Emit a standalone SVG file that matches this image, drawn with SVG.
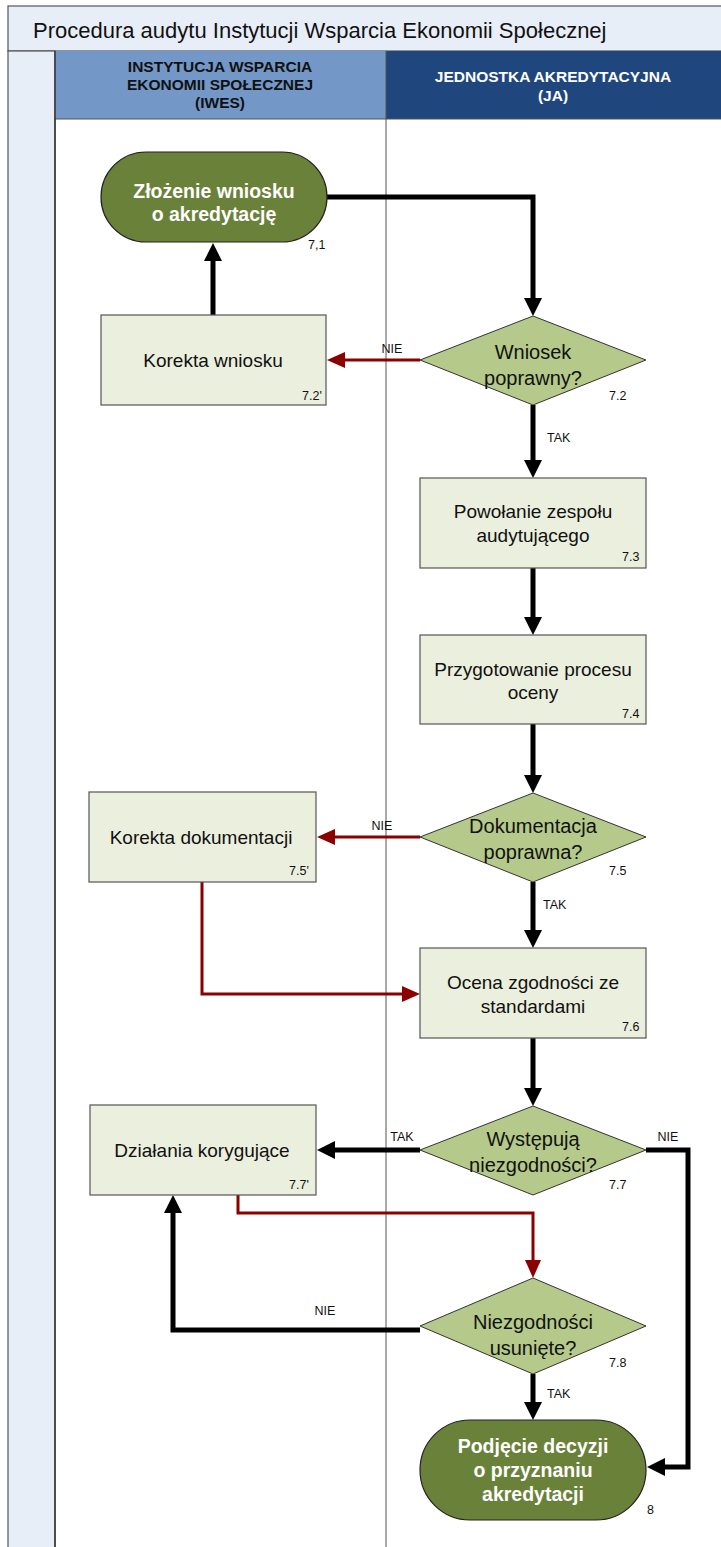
<svg xmlns="http://www.w3.org/2000/svg" width="721" height="1547" viewBox="0 0 721 1547">
<style>
.t{font-family:"Liberation Sans",Arial,sans-serif;}
.box{fill:#EBEFDD;stroke:#555;stroke-width:1.2;}
.dia{fill:#B5C98A;stroke:#333;stroke-width:1;}
.term{fill:#6A813A;stroke:#222;stroke-width:1.2;}
.lbl{font-family:"Liberation Sans",Arial,sans-serif;font-size:19px;fill:#111;text-anchor:middle;}
.dl{font-family:"Liberation Sans",Arial,sans-serif;font-size:20px;fill:#111;text-anchor:middle;}
.tl{font-family:"Liberation Sans",Arial,sans-serif;font-size:19.5px;font-weight:bold;fill:#fff;text-anchor:middle;}
.num{font-family:"Liberation Sans",Arial,sans-serif;font-size:12.5px;fill:#111;}
.cl{font-family:"Liberation Sans",Arial,sans-serif;font-size:12.5px;fill:#111;}
.kb{fill:none;stroke:#000;stroke-width:5;stroke-linejoin:miter;}
.kr{fill:none;stroke:#8B0000;stroke-width:3;stroke-linejoin:miter;}
</style>
<defs>
<marker id="ab" markerWidth="18" markerHeight="18" viewBox="0 0 18 18" refX="1" refY="9" orient="auto" markerUnits="userSpaceOnUse"><path d="M0,0 L18,9 L0,18 z" fill="#000"/></marker>
<marker id="ar" markerWidth="18" markerHeight="16" viewBox="0 0 18 16" refX="1" refY="8" orient="auto" markerUnits="userSpaceOnUse"><path d="M0,0 L18,8 L0,16 z" fill="#8B0000"/></marker>
</defs>
<rect x="0" y="0" width="721" height="1547" fill="#fff"/>
<g id="frame">
<rect x="8" y="6" width="720" height="45" fill="#E8EEF8" stroke="#555" stroke-width="1.2"/>
<text class="t" x="33" y="38" font-size="22" fill="#111">Procedura audytu Instytucji Wsparcia Ekonomii Społecznej</text>
<rect x="8" y="51" width="47" height="1500" fill="#E8EEF8" stroke="#555" stroke-width="1.2"/>
<rect x="55" y="51" width="331" height="68" fill="#7397C6"/>
<rect x="386" y="51" width="340" height="68" fill="#1F477E"/>
<line x1="55" y1="119" x2="721" y2="119" stroke="#555" stroke-width="1"/>
<line x1="55" y1="51" x2="55" y2="1547" stroke="#333" stroke-width="1.5"/>
<line x1="386" y1="51" x2="386" y2="1547" stroke="#555" stroke-width="1"/>
<g class="t" font-size="15.5" font-weight="bold" text-anchor="middle">
<text x="220" y="72" fill="#111">INSTYTUCJA WSPARCIA</text>
<text x="220" y="90" fill="#111">EKONOMII SPOŁECZNEJ</text>
<text x="220" y="108" fill="#111">(IWES)</text>
<text x="553" y="82" fill="#fff">JEDNOSTKA AKREDYTACYJNA</text>
<text x="553" y="101" fill="#fff">(JA)</text>
</g>
</g>
<g id="connectors">
<path class="kb" d="M327,197 H533 V299" marker-end="url(#ab)"/>
<path class="kr" d="M420,360 H344" marker-end="url(#ar)"/>
<path class="kb" d="M213,315 V260" marker-end="url(#ab)"/>
<path class="kb" d="M533,405 V461" marker-end="url(#ab)"/>
<path class="kb" d="M533,568 V618" marker-end="url(#ab)"/>
<path class="kb" d="M533,724 V776" marker-end="url(#ab)"/>
<path class="kr" d="M420,837 H334" marker-end="url(#ar)"/>
<path class="kb" d="M533,882 V931" marker-end="url(#ab)"/>
<path class="kr" d="M202,882 V994 H403" marker-end="url(#ar)"/>
<path class="kb" d="M533,1038 V1089" marker-end="url(#ab)"/>
<path class="kb" d="M420,1150 H334" marker-end="url(#ab)"/>
<path class="kb" d="M646,1150 H688 V1467 H664" marker-end="url(#ab)"/>
<path class="kr" d="M238,1195 V1213 H533 V1261" marker-end="url(#ar)"/>
<path class="kb" d="M420,1330 H173 V1212" marker-end="url(#ab)"/>
<path class="kb" d="M533,1374 V1403" marker-end="url(#ab)"/>
<text class="cl" x="392" y="353" text-anchor="middle">NIE</text>
<text class="cl" x="547" y="442">TAK</text>
<text class="cl" x="382" y="830" text-anchor="middle">NIE</text>
<text class="cl" x="543" y="909">TAK</text>
<text class="cl" x="402" y="1141" text-anchor="middle">TAK</text>
<text class="cl" x="668" y="1141" text-anchor="middle">NIE</text>
<text class="cl" x="325" y="1315" text-anchor="middle">NIE</text>
<text class="cl" x="547" y="1398">TAK</text>
</g>
<g id="n71">
<rect class="term" x="101" y="152" width="226" height="90" rx="45" ry="45"/>
<text class="tl" x="214" y="198">Złożenie wniosku</text>
<text class="tl" x="214" y="221">o akredytację</text>
<text class="num" x="308" y="249">7,1</text>
</g>
<g id="n72p">
<rect class="box" x="101" y="315" width="225" height="90"/>
<text class="lbl" x="213" y="367">Korekta wniosku</text>
<text class="num" x="302" y="400">7.2'</text>
</g>
<g id="n72">
<path class="dia" d="M533,316 L646,360 L533,405 L420,360 Z"/>
<text class="dl" x="533" y="359">Wniosek</text>
<text class="dl" x="533" y="385">poprawny?</text>
<text class="num" x="609" y="400">7.2</text>
</g>
<g id="n73">
<rect class="box" x="420" y="478" width="226" height="90"/>
<text class="lbl" x="533" y="518">Powołanie zespołu</text>
<text class="lbl" x="533" y="542">audytującego</text>
<text class="num" x="622" y="561">7.3</text>
</g>
<g id="n74">
<rect class="box" x="420" y="635" width="226" height="89"/>
<text class="lbl" x="533" y="676">Przygotowanie procesu</text>
<text class="lbl" x="533" y="699">oceny</text>
<text class="num" x="622" y="718">7.4</text>
</g>
<g id="n75">
<path class="dia" d="M533,793 L646,837 L533,882 L420,837 Z"/>
<text class="dl" x="533" y="833">Dokumentacja</text>
<text class="dl" x="533" y="859">poprawna?</text>
<text class="num" x="609" y="875">7.5</text>
</g>
<g id="n75p">
<rect class="box" x="89" y="792" width="227" height="90"/>
<text class="lbl" x="201" y="844">Korekta dokumentacji</text>
<text class="num" x="289" y="875">7.5'</text>
</g>
<g id="n76">
<rect class="box" x="420" y="948" width="226" height="90"/>
<text class="lbl" x="533" y="989">Ocena zgodności ze</text>
<text class="lbl" x="533" y="1013">standardami</text>
<text class="num" x="622" y="1031">7.6</text>
</g>
<g id="n77">
<path class="dia" d="M533,1106 L646,1150 L533,1195 L420,1150 Z"/>
<text class="dl" x="533" y="1146">Występują</text>
<text class="dl" x="533" y="1172">niezgodności?</text>
<text class="num" x="609" y="1189">7.7</text>
</g>
<g id="n77p">
<rect class="box" x="90" y="1105" width="226" height="90"/>
<text class="lbl" x="202" y="1157">Działania korygujące</text>
<text class="num" x="289" y="1189">7.7'</text>
</g>
<g id="n78">
<path class="dia" d="M533,1278 L646,1326 L533,1374 L420,1326 Z"/>
<text class="dl" x="533" y="1329">Niezgodności</text>
<text class="dl" x="533" y="1355">usunięte?</text>
<text class="num" x="609" y="1367">7.8</text>
</g>
<g id="n8">
<rect class="term" x="420" y="1420" width="226" height="100" rx="50" ry="50"/>
<text class="tl" x="533" y="1453">Podjęcie decyzji</text>
<text class="tl" x="533" y="1477">o przyznaniu</text>
<text class="tl" x="533" y="1501">akredytacji</text>
<text class="num" x="647" y="1514">8</text>
</g>
</svg>
